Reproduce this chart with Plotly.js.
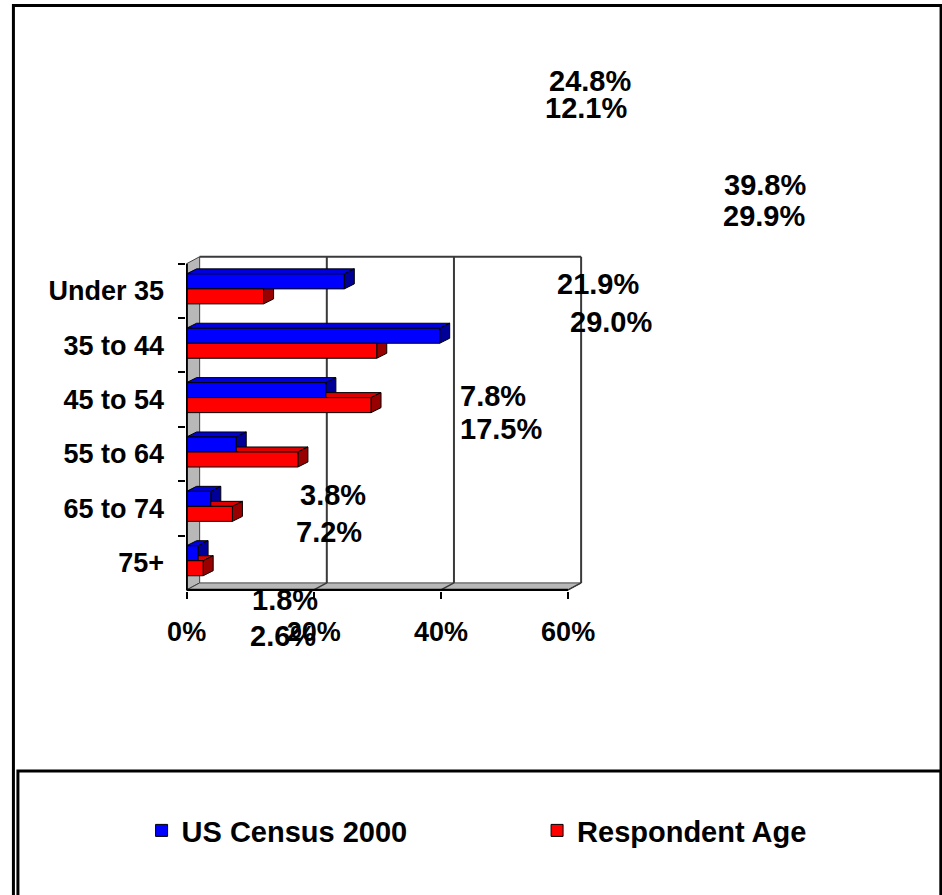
<!DOCTYPE html>
<html><head><meta charset="utf-8">
<script src="https://cdn.plot.ly/plotly-3.0.1.min.js"></script>
<style>html,body{margin:0;padding:0;background:#fff;} #chart{width:942px;height:895px;}</style>
</head><body><div id="chart"></div>
<script>
// ---- data ----
const categories = ["Under 35", "35 to 44", "45 to 54", "55 to 64", "65 to 74", "75+"];
const census2000 = [24.8, 39.8, 21.9, 7.8, 3.8, 1.8];
const respondentAge = [12.1, 29.9, 29.0, 17.5, 7.2, 2.6];
const seriesNames = ["US Census 2000", "Respondent Age"];
const xTickValues = [0, 20, 40, 60];
const xTickLabels = ["0%", "20%", "40%", "60%"];

// ---- layout constants (pixels) ----
const W = 942, H = 895;
const X0PX = 187, X60PX = 568;      // front axis: 0% and 60%
const YTOP = 264, YBOT = 590;       // category band top / bottom
const kx = (X60PX - X0PX) / 60;
const ky = (YBOT - YTOP) / categories.length;
const xRange = [-0.1, 62.5];
const yRange = [5.52, -0.66];
const L = X0PX + xRange[0] * kx, R = X0PX + xRange[1] * kx;
const T = YTOP + (yRange[1] + 0.5) * ky, B = YTOP + (yRange[0] + 0.5) * ky;
const pxX = p => (p - L) / (R - L);
const pxY = p => (B - p) / (B - T);

const FONT = "Liberation Sans, Arial, sans-serif";
const COLORS = ["#0000ff", "#ff0000"];
const TOPC = ["#0000dd", "#dd0000"];
const SIDEC = ["#000099", "#990000"];

// 3-D depth (pixels -> data units)
const wdx = 13 / kx, wdy = 7 / ky;   // wall depth
const bdx = 10 / kx, bdy = 5 / ky;   // bar depth
const barW = 15 / ky;
const barOff = [-17 / ky, -2 / ky];

// label positions (pixel centres) for the misplaced data labels
const labelPosCensus = [[590, 81], [765, 185], [598, 284], [493, 396], [333, 495], [285, 600]];
const labelPosResp = [[586, 108], [764, 216], [611, 322], [501, 429], [329, 532], [283, 636]];
// legend item left positions (pixels)
const legendPos = [[142, 805], [537, 805]];

function poly(pts) { return 'M' + pts.map(p => p[0] + ',' + p[1]).join('L') + 'Z'; }

const shapes = [];
const ln = (x0, y0, x1, y1, c, w, layer) => shapes.push({type: 'line', xref: 'x', yref: 'y', x0, y0, x1, y1, line: {color: c, width: w}, layer: layer});
const yFirst = -0.5, yLast = categories.length - 0.5;

// left wall
shapes.push({type: 'path', xref: 'x', yref: 'y', layer: 'below',
  path: poly([[0, yFirst], [wdx, yFirst - wdy], [wdx, yLast - wdy], [0, yLast]]),
  fillcolor: '#b8b8b8', line: {color: '#404040', width: 1}});
// floor
shapes.push({type: 'path', xref: 'x', yref: 'y', layer: 'below',
  path: poly([[0, yLast], [60, yLast], [60 + wdx, yLast - wdy], [wdx, yLast - wdy]]),
  fillcolor: '#b8b8b8', line: {color: '#404040', width: 1}});
// back wall gridlines + top edge + floor slants
xTickValues.slice(1).forEach(v => {
  ln(v + wdx, yLast - wdy, v + wdx, yFirst - wdy, '#3a3a3a', 2, 'below');
  ln(v, yLast, v + wdx, yLast - wdy, '#3a3a3a', 1.5, 'below');
});
ln(wdx, yFirst - wdy, 60 + wdx, yFirst - wdy, '#3a3a3a', 2, 'below');

// bar depth faces
[census2000, respondentAge].forEach((vals, s) => {
  vals.forEach((v, i) => {
    const yt = i + barOff[s], yb = yt + barW;
    shapes.push({type: 'path', xref: 'x', yref: 'y', layer: 'between',
      path: poly([[0, yt], [bdx, yt - bdy], [v + bdx, yt - bdy], [v, yt]]),
      fillcolor: TOPC[s], line: {color: '#000', width: 1}});
    shapes.push({type: 'path', xref: 'x', yref: 'y', layer: 'between',
      path: poly([[v, yt], [v + bdx, yt - bdy], [v + bdx, yb - bdy], [v, yb]]),
      fillcolor: SIDEC[s], line: {color: '#000', width: 1}});
  });
});
// front axis lines
ln(0, yFirst, 0, yLast, '#000', 2.5, 'above');
ln(0, yLast, 60, yLast, '#000', 2.5, 'above');

// outer frame and legend box (paper)
shapes.push({type: 'rect', xref: 'paper', yref: 'paper', x0: pxX(14), x1: pxX(940.5), y0: pxY(6), y1: pxY(910),
  line: {color: '#000', width: 3}, fillcolor: 'rgba(0,0,0,0)', layer: 'above'});
shapes.push({type: 'rect', xref: 'paper', yref: 'paper', x0: pxX(18.5), x1: pxX(940.5), y0: pxY(771), y1: pxY(910),
  line: {color: '#000', width: 3}, fillcolor: 'rgba(0,0,0,0)', layer: 'above'});

// data labels
const annotations = [];
[[census2000, labelPosCensus], [respondentAge, labelPosResp]].forEach(([vals, pos]) => {
  vals.forEach((v, i) => {
    annotations.push({xref: 'paper', yref: 'paper', x: pxX(pos[i][0]), y: pxY(pos[i][1]),
      xanchor: 'center', yanchor: 'middle', showarrow: false, text: v.toFixed(1) + '%',
      font: {family: FONT, size: 29, color: '#000', weight: 'bold'}});
  });
});

const legendNames = ['legend', 'legend2'];
const traces = [census2000, respondentAge].map((vals, s) => ({
  type: 'bar', orientation: 'h', name: seriesNames[s], y: categories, x: vals,
  width: barW, offset: barOff[s], legend: legendNames[s],
  marker: {color: COLORS[s], line: {color: '#000', width: 1}},
  hoverinfo: 'skip'
}));

const legendStyle = p => ({orientation: 'h', x: pxX(p[0]), xanchor: 'left', y: pxY(p[1]), yanchor: 'top',
  font: {family: FONT, size: 29, color: '#000', weight: 'bold'}, bgcolor: 'rgba(0,0,0,0)', borderwidth: 0});

const layout = {
  width: W, height: H,
  margin: {l: L, r: W - R, t: T, b: H - B, autoexpand: false},
  paper_bgcolor: '#fff', plot_bgcolor: 'rgba(0,0,0,0)',
  barmode: 'group',
  showlegend: true,
  legend: legendStyle(legendPos[0]),
  legend2: legendStyle(legendPos[1]),
  xaxis: {range: xRange, showgrid: false, zeroline: false, showline: false, tickmode: 'array',
    tickvals: xTickValues, ticktext: xTickLabels, ticks: 'outside', ticklen: 7, tickwidth: 2, tickcolor: '#000',
    ticklabelstandoff: 10, tickfont: {family: FONT, size: 27, color: '#000', weight: 'bold'}, fixedrange: true},
  yaxis: {type: 'category', categoryarray: categories, categoryorder: 'array', range: yRange, autorange: false,
    showgrid: false, zeroline: false, showline: false, tickson: 'boundaries', ticks: 'outside', ticklen: 7,
    tickwidth: 2, tickcolor: '#000', ticklabelstandoff: 21,
    tickfont: {family: FONT, size: 27, color: '#000', weight: 'bold'}, fixedrange: true},
  shapes: shapes,
  annotations: annotations
};
Plotly.newPlot('chart', traces, layout, {displayModeBar: false, staticPlot: true});
</script>
</body></html>
